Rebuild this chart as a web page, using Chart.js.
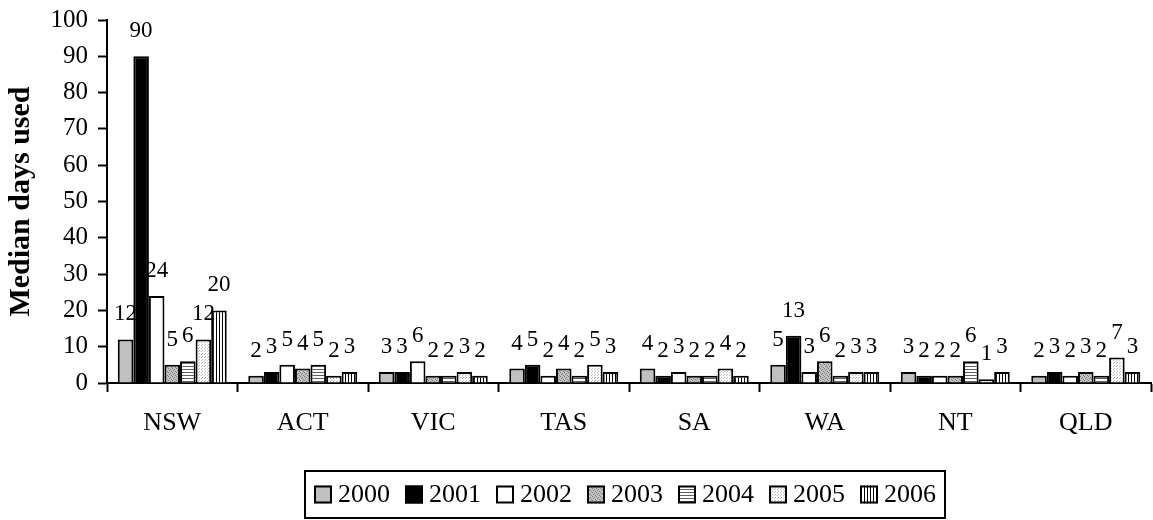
<!DOCTYPE html>
<html>
<head>
<meta charset="utf-8">
<script src="https://cdn.jsdelivr.net/npm/chart.js@4/dist/chart.umd.min.js"></script>
<style>
  html, body { margin: 0; padding: 0; background: #fff; }
</style>
</head>
<body>
<canvas id="chart" width="1153" height="520"></canvas>
<script>
const categories = ['NSW', 'ACT', 'VIC', 'TAS', 'SA', 'WA', 'NT', 'QLD'];
const years = ['2000', '2001', '2002', '2003', '2004', '2005', '2006'];

const v2000 = [12, 2, 3, 4, 4, 5, 3, 2];
const v2001 = [90, 3, 3, 5, 2, 13, 2, 3];
const v2002 = [24, 5, 6, 2, 3, 3, 2, 2];
const v2003 = [5, 4, 2, 4, 2, 6, 2, 3];
const v2004 = [6, 5, 2, 2, 2, 2, 6, 2];
const v2005 = [12, 2, 3, 5, 4, 3, 1, 7];
const v2006 = [20, 3, 2, 3, 2, 3, 3, 3];

const yTicks = [0, 10, 20, 30, 40, 50, 60, 70, 80, 90, 100];

const FONT = "'Liberation Serif', 'DejaVu Serif', serif";

// small tiles used as bar fills
function tile(w, h, draw) {
    const c = document.createElement('canvas');
    c.width = w;
    c.height = h;
    const g = c.getContext('2d');
    draw(g);
    return document.getElementById('chart').getContext('2d').createPattern(c, 'repeat');
}

const fills = [
    '#c0c0c0',
    '#000000',
    '#ffffff',
    tile(4, 4, g => {
        g.fillStyle = '#c4c4c4'; g.fillRect(0, 0, 4, 4);
        g.fillStyle = '#7a7a7a';
        g.fillRect(0, 0, 1, 1); g.fillRect(2, 1, 1, 1);
        g.fillRect(1, 2, 1, 1); g.fillRect(3, 3, 1, 1);
    }),
    tile(1, 3, g => {
        g.fillStyle = '#ffffff'; g.fillRect(0, 0, 1, 3);
        g.fillStyle = '#606060'; g.fillRect(0, 0, 1, 1);
    }),
    tile(3, 3, g => {
        g.fillStyle = '#ffffff'; g.fillRect(0, 0, 3, 3);
        g.fillStyle = '#b8b8b8';
        g.fillRect(0, 0, 1, 1); g.fillRect(1, 2, 1, 1);
    }),
    tile(3, 1, g => {
        g.fillStyle = '#ffffff'; g.fillRect(0, 0, 3, 1);
        g.fillStyle = '#000000'; g.fillRect(0, 0, 1, 1);
    })
];

const series = [v2000, v2001, v2002, v2003, v2004, v2005, v2006];

// numbers above bars
const valueLabels = {
    id: 'valueLabels',
    afterDatasetsDraw(chart) {
        const ctx = chart.ctx;
        ctx.save();
        ctx.font = '23px ' + FONT;
        ctx.fillStyle = '#000';
        ctx.textAlign = 'center';
        ctx.textBaseline = 'middle';
        chart.data.datasets.forEach((ds, i) => {
            chart.getDatasetMeta(i).data.forEach((bar, j) => {
                ctx.fillText(String(ds.data[j]), bar.x, bar.y - 25);
            });
        });
        ctx.restore();
    }
};

// boxed legend under the axis
const boxLegend = {
    id: 'boxLegend',
    afterDraw(chart) {
        const ctx = chart.ctx;
        const area = chart.chartArea;
        ctx.save();
        ctx.font = '26px ' + FONT;
        const box = 18, gap = 6, spacing = 15, pad = 9;
        const items = chart.data.datasets.map(ds => ({
            label: ds.label,
            fill: ds.backgroundColor,
            w: box + gap + ctx.measureText(ds.label).width
        }));
        const total = items.reduce((s, it) => s + it.w, 0) + spacing * (items.length - 1) + pad * 2;
        const left = (area.left + area.right) / 2 - total / 2 - 4;
        const top = area.bottom + 88;
        const h = 47;
        ctx.lineWidth = 2;
        ctx.strokeStyle = '#000';
        ctx.strokeRect(left, top, total, h);
        let x = left + pad;
        const cy = top + h / 2;
        items.forEach(it => {
            ctx.fillStyle = it.fill;
            ctx.fillRect(x, cy - box / 2, box, box);
            ctx.strokeRect(x + 1, cy - box / 2 + 1, box - 2, box - 2);
            ctx.fillStyle = '#000';
            ctx.textBaseline = 'middle';
            ctx.fillText(it.label, x + box + gap, cy + 1);
            x += it.w + spacing;
        });
        ctx.restore();
    }
};

new Chart(document.getElementById('chart'), {
    type: 'bar',
    data: {
        labels: categories,
        datasets: years.map((y, i) => ({
            label: y,
            data: series[i],
            backgroundColor: fills[i],
            borderColor: '#000',
            borderWidth: 2,
            borderSkipped: 'start',
            categoryPercentage: 0.835,
            barPercentage: 1
        }))
    },
    options: {
        responsive: false,
        animation: false,
        devicePixelRatio: 1,
        layout: { padding: { top: 14, right: 2, left: 0, bottom: 0 } },
        plugins: {
            legend: { display: false },
            tooltip: { enabled: false }
        },
        scales: {
            x: {
                grid: {
                    drawOnChartArea: false,
                    drawTicks: true,
                    tickLength: 9,
                    tickColor: '#000',
                    tickWidth: 2,
                    offset: true
                },
                border: { color: '#000', width: 2 },
                ticks: {
                    color: '#000',
                    font: { family: FONT, size: 26 },
                    padding: 16,
                    maxRotation: 0
                },
                afterFit(s) { s.height = 137; }
            },
            y: {
                min: 0,
                max: 100,
                afterBuildTicks(s) { s.ticks = yTicks.map(v => ({ value: v })); },
                grid: {
                    drawOnChartArea: false,
                    drawTicks: true,
                    tickLength: 9,
                    tickColor: '#000',
                    tickWidth: 2
                },
                border: { color: '#000', width: 2 },
                ticks: {
                    color: '#000',
                    font: { family: FONT, size: 25, lineHeight: 0.8 },
                    padding: 10
                },
                title: {
                    display: true,
                    text: 'Median days used',
                    color: '#000',
                    font: { family: FONT, size: 30, weight: 'bold' },
                    padding: { top: 3, bottom: 0 }
                },
                afterFit(s) { s.width = 107; }
            }
        }
    },
    plugins: [valueLabels, boxLegend]
});
</script>
</body>
</html>
